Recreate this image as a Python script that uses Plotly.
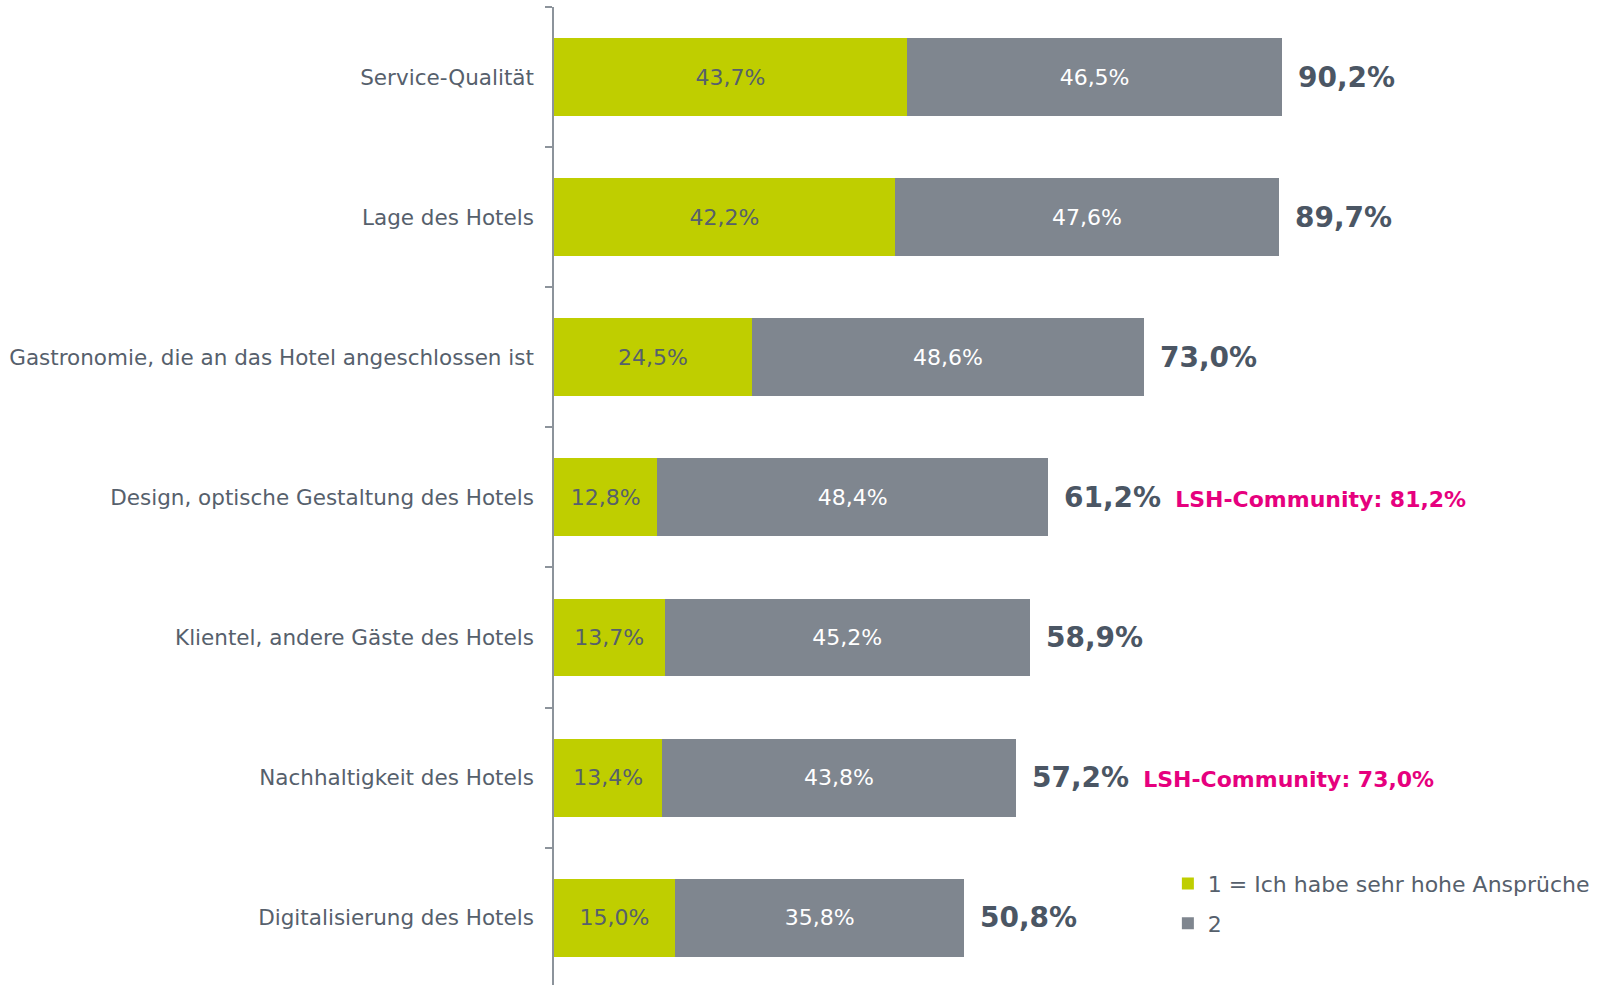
import plotly.graph_objects as go

categories = [
    "Service-Qualität",
    "Lage des Hotels",
    "Gastronomie, die an das Hotel angeschlossen ist",
    "Design, optische Gestaltung des Hotels",
    "Klientel, andere Gäste des Hotels",
    "Nachhaltigkeit des Hotels",
    "Digitalisierung des Hotels",
]
series1 = [43.7, 42.2, 24.5, 12.8, 13.7, 13.4, 15.0]
series2 = [46.5, 47.6, 48.6, 48.4, 45.2, 43.8, 35.8]
totals = [90.2, 89.7, 73.0, 61.2, 58.9, 57.2, 50.8]
community = [None, None, None, 81.2, None, 73.0, None]
series_names = ["1 = Ich habe sehr hohe Ansprüche", "2"]

GREEN = "#bfce00"
GREY = "#7f868f"
TEXT = "#56606c"
TOTAL = "#4b5664"
PINK = "#e6007e"
FONT = "DejaVu Sans"

fig = go.Figure()
fig.add_trace(go.Bar(
    y=categories, x=series1, orientation="h", name=series_names[0],
    marker=dict(color=GREEN, line=dict(width=0)), width=0.556,
    texttemplate="%{x:.1f}%", textposition="inside", insidetextanchor="middle",
    textfont=dict(family=FONT, size=22, color=TEXT), legendgroup="a",
    hoverinfo="skip",
))
fig.add_trace(go.Bar(
    y=categories, x=series2, orientation="h", name=series_names[1],
    marker=dict(color=GREY, line=dict(width=0)), width=0.556,
    texttemplate="%{x:.1f}%", textposition="inside", insidetextanchor="middle",
    textfont=dict(family=FONT, size=22, color="white"), legendgroup="b",
    hoverinfo="skip",
))

for cat, s1, s2, tot, com in zip(categories, series1, series2, totals, community):
    txt = "<b>" + f"{tot:.1f}".replace(".", ",") + "%</b>"
    if com is not None:
        txt += ("<span style='color:%s;font-size:22px'>&nbsp;&nbsp;<b>LSH-Community: %s%%</b></span>"
                % (PINK, f"{com:.1f}".replace(".", ",")))
    fig.add_annotation(
        x=s1 + s2, y=cat, xref="x", yref="y", text=txt, showarrow=False,
        xanchor="left", yanchor="middle", xshift=14,
        font=dict(family=FONT, size=28, color=TOTAL),
    )

fig.update_layout(
    barmode="stack",
    separators=",.",
    width=1598, height=985,
    margin=dict(l=554, r=0, t=7, b=0, pad=0),
    plot_bgcolor="white", paper_bgcolor="white",
    font=dict(family=FONT, color=TEXT),
    legend=dict(
        x=0.588, y=0.125, xanchor="left", yanchor="top",
        xref="paper", yref="paper",
        font=dict(family=FONT, size=22, color=TEXT),
        traceorder="grouped", tracegroupgap=8,
        bgcolor="rgba(0,0,0,0)",
    ),
    showlegend=True,
)
fig.update_xaxes(range=[0, 129.3], visible=False, fixedrange=True, automargin=False)
fig.update_yaxes(
    type="category", range=[6.48, -0.5], automargin=False,
    showline=True, linecolor="#8c939b", linewidth=1.5,
    ticks="outside", ticklen=7, tickcolor="#8c939b", tickwidth=1.5,
    tickson="boundaries", showgrid=False, zeroline=False,
    tickfont=dict(family=FONT, size=21.5, color=TEXT),
    ticklabelstandoff=14,
)

fig.write_html(
    "out.html",
    config={"displayModeBar": False},
    post_script="document.body.style.margin='0';document.body.style.overflow='hidden';",
)
